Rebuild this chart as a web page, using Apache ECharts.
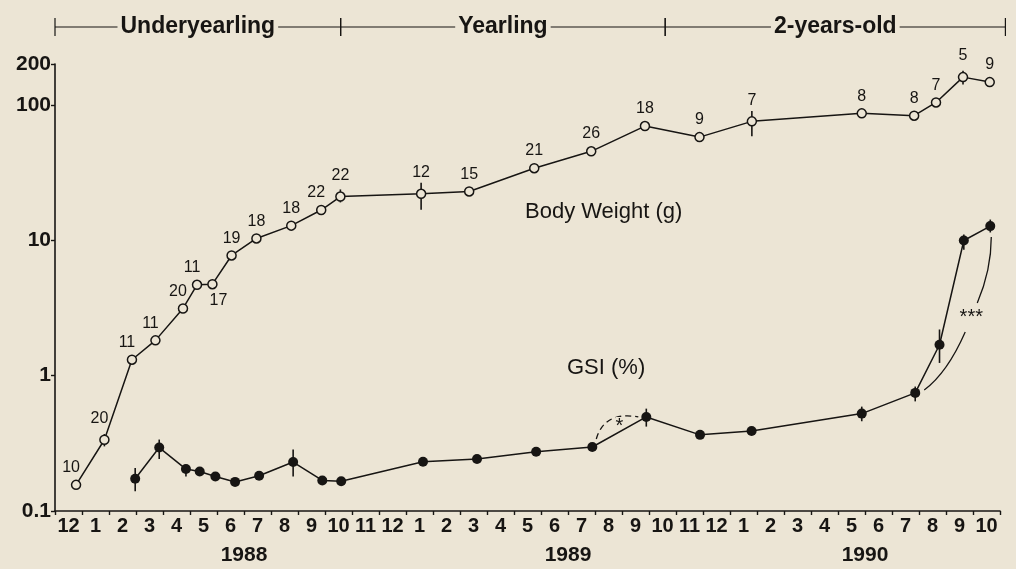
<!DOCTYPE html>
<html>
<head>
<meta charset="utf-8">
<script src="https://cdn.jsdelivr.net/npm/echarts@6/dist/echarts.min.js"></script>
<style>
  html, body { margin: 0; background: #ece5d5; }
  #chart { width: 1016px; height: 569px; }
</style>
</head>
<body>
<div id="chart"></div>
<script>
// time axis: months counted from 1 Dec 1987 (0) to 31 Oct 1990 (35)
const monthLabels = ['12', '1', '2', '3', '4', '5', '6', '7', '8', '9', '10', '11',
  '12', '1', '2', '3', '4', '5', '6', '7', '8', '9', '10', '11',
  '12', '1', '2', '3', '4', '5', '6', '7', '8', '9', '10']
const yearNames = ['1988', '1989', '1990']
const yearStart = [1, 13, 25]
const yearEnd = [13, 25, 35]

const stageNames = ['Underyearling', 'Yearling', '2-years-old']
const stageBounds = [0, 10.58, 22.6, 35.2]

// body weight (g), open circles, with sample size n
const bwTime = [0.78, 1.83, 2.85, 3.72, 4.74, 5.26, 5.83, 6.54, 7.46, 8.75, 9.86, 10.57,
  13.56, 15.34, 17.75, 19.86, 21.85, 23.87, 25.81, 29.88, 31.82, 32.63, 33.63, 34.62]
const bwMean = [0.156, 0.336, 1.31, 1.82, 3.13, 4.68, 4.73, 7.71, 10.3, 12.8, 16.7, 21.0,
  22.0, 22.9, 34.0, 45.3, 69.6, 57.7, 75.4, 86.4, 83.0, 104, 160, 147]
const bwN = [10, 20, 11, 11, 20, 11, 17, 19, 18, 18, 22, 22,
  12, 15, 21, 26, 18, 9, 7, 8, 8, 7, 5, 9]
const bwHigh = [null, 0.37, null, null, null, null, null, null, null, null, null, 23.7,
  26.6, null, null, null, null, null, 89.8, null, null, null, 178, null]
const bwLow = [null, 0.30, null, null, null, null, null, null, null, null, null, 19.0,
  16.8, null, null, null, null, null, 58.5, null, null, null, 141, null]

// GSI (%), filled circles
const gsiTime = [2.97, 3.86, 4.85, 5.36, 5.94, 6.67, 7.56, 8.82, 9.90, 10.60, 13.63,
  15.63, 17.82, 19.90, 21.90, 23.89, 25.80, 29.88, 31.86, 32.76, 33.66, 34.64]
const gsiMean = [0.173, 0.294, 0.204, 0.196, 0.180, 0.164, 0.182, 0.230, 0.168, 0.166, 0.231,
  0.242, 0.274, 0.297, 0.495, 0.365, 0.390, 0.524, 0.745, 1.69, 9.95, 12.7]
const gsiHigh = [0.208, 0.337, 0.220, null, null, null, null, 0.284, null, null, null,
  null, null, null, 0.57, null, null, 0.59, 0.83, 2.19, 11.0, 14.2]
const gsiLow = [0.140, 0.242, 0.180, null, null, null, null, 0.180, null, null, null,
  null, null, null, 0.42, null, null, 0.46, 0.645, 1.24, 8.5, 11.4]

const FONT = '"Liberation Sans", Arial, sans-serif'
const INK = '#171513'
const BG = '#ece5d5'

const yearAt = {}
yearNames.forEach((y, i) => { yearAt[(yearStart[i] + yearEnd[i]) / 2] = y })

const chart = echarts.init(document.getElementById('chart'))

function errorBars(low, high, time) {
  const data = []
  time.forEach((t, i) => { if (low[i] != null) data.push([t, low[i], high[i]]) })
  return {
    type: 'custom',
    xAxisIndex: 1,
    yAxisIndex: 0,
    z: 1,
    silent: true,
    data,
    renderItem(params, api) {
      const top = api.coord([api.value(0), api.value(2)])
      const bottom = api.coord([api.value(0), api.value(1)])
      return {
        type: 'line',
        shape: { x1: top[0], y1: top[1], x2: bottom[0], y2: bottom[1] },
        style: { stroke: INK, lineWidth: 1.6 }
      }
    }
  }
}

function bwItem(t, i) {
  const label = { distance: bwLow[i] != null ? 8 : 4 }
  if (i === 6) {
    label.position = 'bottom'
    label.offset = [6, 0]
    label.distance = 3
  } else if (i < 6 || i === 10) {
    label.offset = [-5, 0]
  }
  return { value: [t, bwMean[i]], label }
}

chart.setOption({
  animation: false,
  backgroundColor: BG,
  grid: [
    { left: 55, right: 16, top: 64, bottom: 58 },
    { left: 55, right: 16, top: 15, height: 24 }
  ],
  xAxis: [
    {
      type: 'category',
      gridIndex: 0,
      data: monthLabels,
      boundaryGap: true,
      axisLine: { lineStyle: { color: INK, width: 1.6 } },
      axisTick: { show: true, length: 4, lineStyle: { color: INK, width: 1.4 } },
      axisLabel: { interval: 0, color: INK, fontFamily: FONT, fontSize: 20, fontWeight: 'bold', margin: 5 },
      splitLine: { show: false }
    },
    { type: 'value', gridIndex: 0, min: 0, max: 35, show: false },
    {
      type: 'value',
      gridIndex: 0,
      min: 0,
      max: 35,
      interval: 1,
      position: 'bottom',
      offset: 29,
      axisLine: { show: false },
      axisTick: { show: false },
      splitLine: { show: false },
      axisLabel: {
        color: INK, fontFamily: FONT, fontSize: 21, fontWeight: 'bold', margin: 5,
        formatter: v => yearAt[v] || ''
      }
    },
    { type: 'value', gridIndex: 1, min: 0, max: 35, show: false }
  ],
  yAxis: [
    {
      type: 'log',
      gridIndex: 0,
      logBase: 10,
      min: 0.1,
      max: 200,
      axisLine: { show: true, lineStyle: { color: INK, width: 1.6 } },
      axisTick: { show: true, length: 4, lineStyle: { color: INK, width: 1.4 } },
      axisLabel: { color: INK, fontFamily: FONT, fontSize: 21, fontWeight: 'bold', margin: 4 },
      splitLine: { show: false }
    },
    { type: 'value', gridIndex: 1, min: 0, max: 1, show: false }
  ],
  series: [
    errorBars(bwLow, bwHigh, bwTime),
    errorBars(gsiLow, gsiHigh, gsiTime),
    {
      name: 'Body Weight (g)',
      type: 'line',
      xAxisIndex: 1,
      yAxisIndex: 0,
      z: 3,
      data: bwTime.map(bwItem),
      symbol: 'circle',
      symbolSize: 9,
      itemStyle: { color: BG, borderColor: INK, borderWidth: 1.5 },
      lineStyle: { color: INK, width: 1.5 },
      emphasis: { disabled: true },
      label: {
        show: true,
        position: 'top',
        color: INK,
        fontFamily: FONT,
        fontSize: 16,
        formatter: p => bwN[p.dataIndex]
      }
    },
    {
      name: 'GSI (%)',
      type: 'line',
      xAxisIndex: 1,
      yAxisIndex: 0,
      z: 3,
      data: gsiTime.map((t, i) => [t, gsiMean[i]]),
      symbol: 'circle',
      symbolSize: 10,
      itemStyle: { color: INK },
      lineStyle: { color: INK, width: 1.5 },
      emphasis: { disabled: true }
    },
    {
      type: 'custom',
      xAxisIndex: 3,
      yAxisIndex: 1,
      silent: true,
      clip: false,
      data: stageNames.map((n, i) => [stageBounds[i], stageBounds[i + 1]]),
      renderItem(params, api) {
        const a = api.coord([api.value(0), 0.5])
        const b = api.coord([api.value(1), 0.5])
        const stroke = { stroke: INK, lineWidth: 1.2 }
        return {
          type: 'group',
          children: [
            { type: 'line', shape: { x1: a[0], y1: a[1], x2: b[0], y2: b[1] }, style: stroke },
            { type: 'line', shape: { x1: a[0], y1: a[1] - 9, x2: a[0], y2: a[1] + 9 }, style: stroke },
            { type: 'line', shape: { x1: b[0], y1: b[1] - 9, x2: b[0], y2: b[1] + 9 }, style: stroke },
            {
              type: 'text',
              x: (a[0] + b[0]) / 2,
              y: a[1],
              style: {
                text: stageNames[params.dataIndex],
                fill: INK,
                fontFamily: FONT,
                fontSize: 23,
                fontWeight: 'bold',
                align: 'center',
                verticalAlign: 'middle',
                backgroundColor: BG,
                padding: [0, 3]
              }
            }
          ]
        }
      }
    }
  ]
})

// significance marks, anchored on the GSI points they compare
const px = i => chart.convertToPixel({ seriesIndex: 3 }, [gsiTime[i], gsiMean[i]])
const jul89 = px(13)
const sep89 = px(14)
const jul90 = px(18)
const oct90 = px(21)
const arc = { stroke: INK, lineWidth: 1.3, fill: null }

chart.setOption({
  graphic: [
    {
      type: 'text', left: 525, top: 201,
      style: { text: 'Body Weight (g)', fill: INK, fontFamily: FONT, fontSize: 22 }
    },
    {
      type: 'text', left: 567, top: 357,
      style: { text: 'GSI (%)', fill: INK, fontFamily: FONT, fontSize: 22 }
    },
    {
      type: 'bezierCurve',
      shape: { x1: jul89[0] + 4, y1: jul89[1] - 8, x2: sep89[0] - 8, y2: sep89[1], cpx1: jul89[0] + 12, cpy1: sep89[1] - 6 },
      style: Object.assign({ lineDash: [6, 4] }, arc)
    },
    {
      type: 'text', x: (jul89[0] + sep89[0]) / 2, y: (jul89[1] + sep89[1]) / 2 - 5,
      style: { text: '*', fill: INK, fontFamily: FONT, fontSize: 20, align: 'center', verticalAlign: 'middle', backgroundColor: BG }
    },
    {
      type: 'bezierCurve',
      shape: { x1: jul90[0] + 9, y1: jul90[1] - 3, x2: jul90[0] + 50, y2: jul90[1] - 61, cpx1: jul90[0] + 32, cpy1: jul90[1] - 20 },
      style: arc
    },
    {
      type: 'bezierCurve',
      shape: { x1: oct90[0] - 13, y1: oct90[1] + 77, x2: oct90[0] + 1, y2: oct90[1] + 11, cpx1: oct90[0] + 1, cpy1: oct90[1] + 44 },
      style: arc
    },
    {
      type: 'text', x: oct90[0] - 19, y: oct90[1] + 91,
      style: { text: '***', fill: INK, fontFamily: FONT, fontSize: 20, align: 'center', verticalAlign: 'middle' }
    }
  ]
})
</script>
</body>
</html>
